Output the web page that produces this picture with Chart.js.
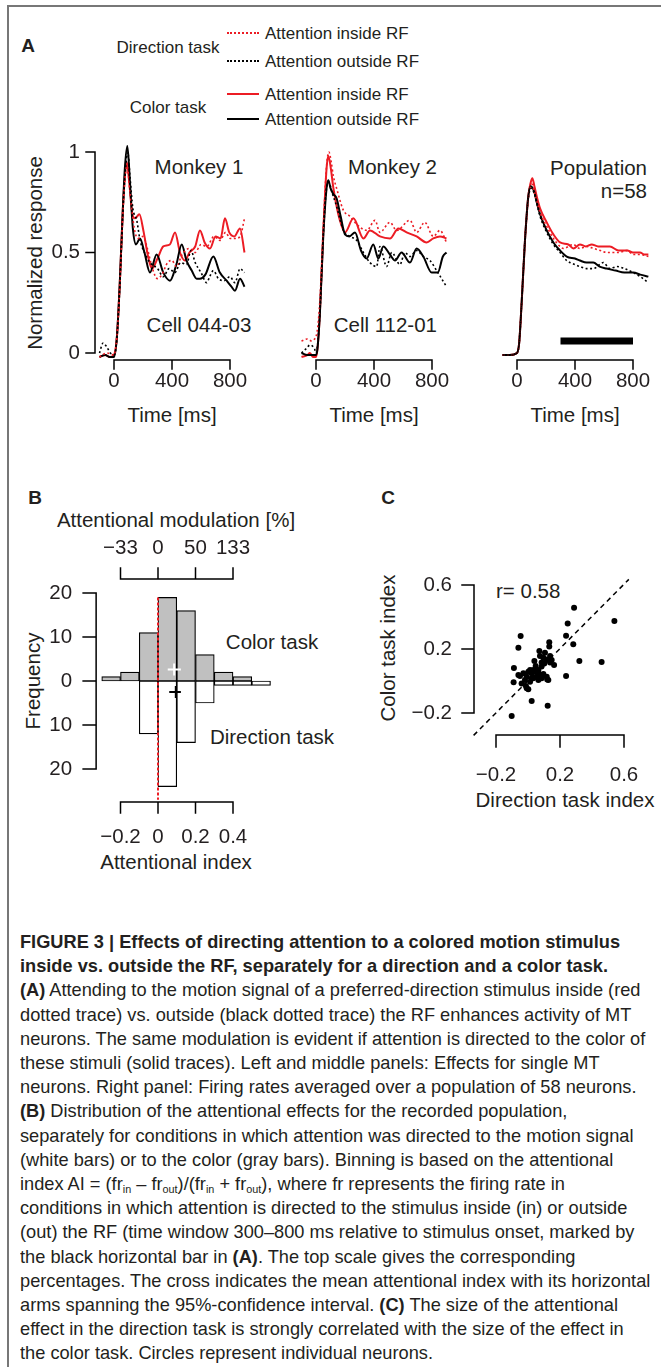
<!DOCTYPE html>
<html>
<head>
<meta charset="utf-8">
<title>Figure 3</title>
<script src="https://cdn.jsdelivr.net/npm/chart.js@4.4.0/dist/chart.umd.min.js"></script>
<style>
  html, body { margin: 0; padding: 0; background: #fff; }
  #page { position: relative; width: 661px; height: 1367px; overflow: hidden;
          font-family: "Liberation Sans", Arial, sans-serif; color: #231f20; }
  #frame { position: absolute; left: 7px; top: 5px; width: 700px; height: 1400px;
           border-left: 2px solid #777; border-top: 2px solid #777; }
  .t { position: absolute; white-space: nowrap; line-height: 1; font-size: 20.5px; }
  .c { transform: translate(-50%, -50%); }
  .l { transform: translate(0, -50%); }
  .r { transform: translate(-100%, -50%); }
  .v { transform: translate(-50%, -50%) rotate(-90deg); }
  .lg { font-size: 17px; }
  .pl { font-size: 19px; font-weight: bold; }
  .sw { position: absolute; width: 32px; height: 0; }
  canvas { position: absolute; }
  #caption { position: absolute; left: 20px; top: 930px; font-size: 18.5px; line-height: 24.2px;
             transform-origin: 0 0; white-space: nowrap;
             font-family: "Liberation Sans Narrow", "Liberation Sans", Arial, sans-serif; }
  #caption sub { font-size: 11px; vertical-align: -3px; line-height: 0; }
</style>
</head>
<body>
<div id="page">
  <div id="frame"></div>

  <!-- panel A -->
  <div class="t pl c" style="left:28px;top:45px">A</div>
  <div class="t lg c" style="left:168px;top:47px">Direction task</div>
  <div class="t lg c" style="left:168px;top:107px">Color task</div>
  <div class="sw" style="left:227px;top:32px;border-top:2px dotted #ec1c24"></div>
  <div class="sw" style="left:227px;top:60px;border-top:2px dotted #000"></div>
  <div class="sw" style="left:227px;top:93px;border-top:2px solid #ec1c24"></div>
  <div class="sw" style="left:227px;top:118px;border-top:2px solid #000"></div>
  <div class="t lg l" style="left:265px;top:33px">Attention inside RF</div>
  <div class="t lg l" style="left:265px;top:61px">Attention outside RF</div>
  <div class="t lg l" style="left:265px;top:94px">Attention inside RF</div>
  <div class="t lg l" style="left:265px;top:119px">Attention outside RF</div>

  <div class="t v" style="left:35px;top:253px">Normalized response</div>
  <div class="t c" style="left:199px;top:167px">Monkey 1</div>
  <div class="t c" style="left:199px;top:325px">Cell 044-03</div>
  <div class="t r" style="left:437px;top:167px">Monkey 2</div>
  <div class="t r" style="left:437px;top:325px">Cell 112-01</div>
  <div class="t r" style="left:647px;top:168px">Population</div>
  <div class="t r" style="left:647px;top:191px">n=58</div>
  <div class="t c" style="left:172px;top:415px">Time [ms]</div>
  <div class="t c" style="left:374px;top:415px">Time [ms]</div>
  <div class="t c" style="left:575px;top:415px">Time [ms]</div>

  <canvas id="a1" width="220" height="280" style="left:35px;top:125px"></canvas>
  <canvas id="a2" width="180" height="280" style="left:280px;top:125px"></canvas>
  <canvas id="a3" width="181" height="280" style="left:480px;top:125px"></canvas>

  <!-- panel B -->
  <div class="t pl c" style="left:35px;top:497px">B</div>
  <div class="t c" style="left:176px;top:520px">Attentional modulation [%]</div>
  <div class="t v" style="left:33px;top:681px">Frequency</div>
  <div class="t c" style="left:272px;top:642px">Color task</div>
  <div class="t c" style="left:272px;top:737px">Direction task</div>
  <div class="t c" style="left:176px;top:862px">Attentional index</div>
  <canvas id="b" width="280" height="320" style="left:40px;top:530px"></canvas>

  <!-- panel C -->
  <div class="t pl c" style="left:388px;top:497px">C</div>
  <div class="t v" style="left:388px;top:648px">Color task index</div>
  <div class="t l" style="left:496px;top:591px">r= 0.58</div>
  <div class="t c" style="left:565px;top:800px">Direction task index</div>
  <canvas id="c" width="261" height="240" style="left:400px;top:555px"></canvas>

  <div id="caption">
    <div><b>FIGURE 3 | Effects of directing attention to a colored motion stimulus</b></div>
    <div><b>inside vs. outside the RF, separately for a direction and a color task.</b></div>
    <div><b>(A)</b> Attending to the motion signal of a preferred-direction stimulus inside (red</div>
    <div>dotted trace) vs. outside (black dotted trace) the RF enhances activity of MT</div>
    <div>neurons. The same modulation is evident if attention is directed to the color of</div>
    <div>these stimuli (solid traces). Left and middle panels: Effects for single MT</div>
    <div>neurons. Right panel: Firing rates averaged over a population of 58 neurons.</div>
    <div><b>(B)</b> Distribution of the attentional effects for the recorded population,</div>
    <div>separately for conditions in which attention was directed to the motion signal</div>
    <div>(white bars) or to the color (gray bars). Binning is based on the attentional</div>
    <div>index AI = (fr<sub>in</sub> – fr<sub>out</sub>)/(fr<sub>in</sub> + fr<sub>out</sub>), where fr represents the firing rate in</div>
    <div>conditions in which attention is directed to the stimulus inside (in) or outside</div>
    <div>(out) the RF (time window 300–800 ms relative to stimulus onset, marked by</div>
    <div>the black horizontal bar in <b>(A)</b>. The top scale gives the corresponding</div>
    <div>percentages. The cross indicates the mean attentional index with its horizontal</div>
    <div>arms spanning the 95%-confidence interval. <b>(C)</b> The size of the attentional</div>
    <div>effect in the direction task is strongly correlated with the size of the effect in</div>
    <div>the color task. Circles represent individual neurons.</div>
  </div>
</div>

<script>
// ---- Panel A: Monkey 1 (time in ms, normalized response) ----
const m1ColorInT  = [-100,-60,-30,0,20,40,60,75,88,105,125,145,175,205,235,262,300,340,385,421,455,490,520,560,593,625,662,700,735,765,795,830,869,900];
const m1ColorIn   = [-0.02,-0.01,-0.02,-0.01,0.08,0.35,0.70,0.88,0.95,0.85,0.70,0.67,0.69,0.60,0.48,0.42,0.47,0.53,0.54,0.60,0.50,0.46,0.50,0.53,0.61,0.55,0.52,0.58,0.57,0.67,0.60,0.58,0.62,0.50];
const m1DirInT    = [-100,-50,0,20,40,60,75,90,110,140,165,200,230,265,300,330,370,400,430,470,520,560,600,640,690,730,770,800,840,870,900];
const m1DirIn     = [-0.02,0.00,-0.01,0.08,0.33,0.68,0.86,0.93,0.80,0.62,0.57,0.58,0.52,0.42,0.37,0.39,0.45,0.46,0.43,0.49,0.52,0.50,0.54,0.53,0.58,0.56,0.60,0.57,0.57,0.58,0.67];
const m1ColorOutT = [-100,-60,-30,0,20,40,60,75,92,110,130,152,179,210,248,294,340,386,430,467,500,536,570,593,630,685,730,777,810,834,869,900];
const m1ColorOut  = [-0.02,-0.01,-0.02,-0.02,0.08,0.35,0.70,0.92,1.03,0.85,0.62,0.54,0.57,0.50,0.40,0.49,0.40,0.36,0.44,0.54,0.46,0.41,0.37,0.37,0.39,0.48,0.40,0.36,0.33,0.31,0.37,0.33];
const m1DirOutT   = [-100,-75,-50,-25,0,20,40,60,78,95,110,130,157,180,210,248,300,340,380,420,460,500,531,560,600,639,660,685,720,760,800,834,870,900];
const m1DirOut    = [0.00,0.05,0.03,0.00,-0.01,0.07,0.33,0.68,0.90,1.00,0.88,0.72,0.66,0.56,0.50,0.45,0.42,0.38,0.42,0.40,0.45,0.44,0.51,0.45,0.40,0.35,0.38,0.41,0.37,0.36,0.38,0.35,0.42,0.40];

// ---- Panel A: Monkey 2 ----
const m2ColorInT  = [-100,-60,-42,-20,0,10,27,50,73,85,100,120,142,165,200,258,327,372,441,510,568,625,694,763,809,855,900];
const m2ColorIn   = [-0.02,-0.01,0.00,-0.02,-0.02,0.02,0.20,0.60,0.92,0.98,0.93,0.82,0.73,0.66,0.60,0.67,0.57,0.61,0.58,0.57,0.62,0.60,0.58,0.55,0.57,0.58,0.57];
const m2DirInT    = [-100,-60,-30,-10,0,15,30,50,73,89,105,120,142,189,234,281,350,407,441,510,556,648,694,750,809,855,900];
const m2DirIn     = [0.06,0.07,0.06,0.07,0.08,0.15,0.30,0.62,0.93,1.00,0.95,0.88,0.82,0.71,0.68,0.64,0.61,0.66,0.60,0.65,0.61,0.66,0.60,0.65,0.58,0.61,0.55];
const m2ColorOutT = [-100,-60,-20,0,10,27,50,73,85,100,120,142,170,200,230,269,310,349,395,430,464,510,545,590,648,694,740,798,840,875,900];
const m2ColorOut  = [0.00,-0.01,-0.01,-0.01,0.02,0.20,0.58,0.82,0.86,0.82,0.79,0.77,0.68,0.59,0.58,0.60,0.51,0.47,0.54,0.47,0.53,0.49,0.46,0.50,0.45,0.52,0.48,0.40,0.40,0.48,0.50];
const m2DirOutT   = [-100,-70,-40,-10,0,27,50,73,89,110,142,189,234,281,327,372,418,441,487,522,579,613,648,694,740,786,832,866,900];
const m2DirOut    = [0.00,0.02,0.04,0.02,0.00,0.20,0.58,0.82,0.85,0.80,0.73,0.61,0.58,0.56,0.50,0.45,0.43,0.53,0.43,0.50,0.44,0.50,0.48,0.51,0.48,0.46,0.41,0.37,0.33];

// ---- Panel A: population average (n=58) ----
const popColorInT  = [-100,-50,0,15,32,55,78,95,106,120,136,159,205,251,297,354,389,434,475,515,560,600,641,700,760,800,848,880,906];
const popColorIn   = [-0.01,-0.01,0.00,0.05,0.25,0.56,0.78,0.85,0.87,0.83,0.78,0.72,0.65,0.59,0.55,0.54,0.52,0.54,0.53,0.54,0.53,0.53,0.53,0.51,0.51,0.50,0.50,0.49,0.49];
const popDirInT    = [-100,-50,0,15,32,55,78,95,103,120,159,205,251,297,320,389,434,480,530,575,620,700,760,800,848,906];
const popDirIn     = [-0.01,-0.01,0.00,0.05,0.25,0.56,0.77,0.83,0.84,0.80,0.70,0.63,0.57,0.53,0.52,0.54,0.52,0.53,0.52,0.51,0.50,0.50,0.51,0.49,0.49,0.48];
const popColorOutT = [-100,-50,0,15,32,55,78,95,120,136,159,205,251,297,343,400,434,480,526,570,618,680,740,802,850,906];
const popColorOut  = [-0.01,-0.01,0.00,0.05,0.25,0.56,0.78,0.83,0.80,0.75,0.69,0.61,0.55,0.51,0.48,0.47,0.46,0.45,0.45,0.43,0.42,0.41,0.40,0.40,0.39,0.38];
const popDirOutT   = [-100,-50,0,15,32,55,78,100,120,159,205,251,297,343,400,434,480,526,595,640,690,740,802,850,906];
const popDirOut    = [-0.01,-0.01,0.00,0.05,0.25,0.56,0.77,0.82,0.79,0.68,0.60,0.54,0.50,0.46,0.44,0.43,0.42,0.42,0.45,0.42,0.43,0.42,0.40,0.38,0.35];
// analysis window marked by the black bar
const windowT = [300, 800];
const windowLevel = [0.06, 0.06];

const timeTicks = [0, 400, 800];
const timeLabels = ['0', '400', '800'];
const respTicks = [0, 0.5, 1];
const respLabels = ['0', '0.5', '1'];

// ---- Panel B: histogram of attentional index ----
const binMid = [-0.25, -0.15, -0.05, 0.05, 0.15, 0.25, 0.35, 0.45, 0.55];
const colorCounts = [1, 2, 11, 19, 16, 6, 2, 1, 0];
const dirCounts   = [0, 0, 12, 24, 14, 5, 1, 1, 1];
const colorMean = 0.086, colorCI = [0.052, 0.122], colorCrossY = 2.6;
const dirMean = 0.095, dirCI = [0.06, 0.122], dirCrossY = -2.5;
const zeroLineY = [19, -27];
const aiTicks = [-0.2, 0, 0.2, 0.4];
const aiLabels = ['\u22120.2', '0', '0.2', '0.4'];
const modLabels = ['\u221233', '0', '50', '133'];
const freqTicks = [20, 10, 0, -10, -20];
const freqLabels = ['20', '10', '0', '10', '20'];

// ---- Panel C: color task index vs direction task index ----
const dirIdx = [0.288,0.540,0.248,0.238,-0.046,0.283,-0.060,0.133,0.133,0.071,0.321,0.460,-0.088,0.238,-0.090,0.023,0.123,-0.102,
  0.040,0.075,0.096,0.117,0.138,0.163,0.102,0.085,0.065,0.044,0.023,0.002,-0.029,-0.050,-0.060,-0.008,0.033,0.065,0.013,-0.040,
  -0.013,0.002,-0.008,0.127,0.117,0.096,0.054,0.138,0.106,0.085,0.023,-0.019,0.075,0.048,0.013,0.148,0.065,0.085,0.033,0.120];
const colIdx = [0.458,0.375,0.360,0.283,0.281,0.229,0.208,0.242,0.215,0.188,0.125,0.119,0.081,0.031,-0.008,-0.125,-0.154,-0.219,
  0.125,0.156,0.146,0.135,0.115,0.100,0.110,0.090,0.069,0.058,0.048,0.058,0.048,0.031,0.037,0.027,0.017,0.006,-0.004,-0.015,
  -0.031,-0.052,-0.046,0.006,0.027,0.044,0.027,0.156,0.177,0.115,0.017,0.006,0.027,0.094,0.069,0.131,0.048,0.017,0.069,0.010];
const regX = [-0.34, 0.63];
const regY = [-0.34, 0.635];
const idxTicks = [-0.2, 0.2, 0.6];
const idxLabels = ['\u22120.2', '0.2', '0.6'];

const RED = '#ec1c24';
const INK = '#231f20';
const FONT = '"Liberation Sans", Arial, sans-serif';

Chart.defaults.animation = false;
Chart.defaults.font.family = FONT;

// R-style detached axes: line only between first and last tick
const rAxes = {
  id: 'rAxes',
  afterDraw(chart, args, opts) {
    const axes = opts.axes || [];
    const ctx = chart.ctx;
    const sx = chart.scales.x, sy = chart.scales.y;
    ctx.save();
    ctx.strokeStyle = '#000';
    ctx.lineWidth = 1.5;
    ctx.lineCap = 'square';
    ctx.fillStyle = INK;
    ctx.font = '20.5px ' + FONT;
    axes.forEach(a => {
      if (a.dir === 'y') {
        const x = sx.getPixelForValue(a.at);
        const ys = a.ticks.map(v => sy.getPixelForValue(v));
        ctx.beginPath();
        ctx.moveTo(x, Math.min(...ys));
        ctx.lineTo(x, Math.max(...ys));
        ys.forEach(y => { ctx.moveTo(x, y); ctx.lineTo(x - a.tick, y); });
        ctx.stroke();
        ctx.textAlign = 'right';
        ctx.textBaseline = 'middle';
        a.labels.forEach((s, i) => ctx.fillText(s, x - a.tick - a.gap, ys[i]));
      } else {
        const y = sy.getPixelForValue(a.at);
        const xs = a.ticks.map(v => sx.getPixelForValue(v));
        const d = a.side === 'top' ? -1 : 1;
        ctx.beginPath();
        ctx.moveTo(Math.min(...xs), y);
        ctx.lineTo(Math.max(...xs), y);
        xs.forEach(x => { ctx.moveTo(x, y); ctx.lineTo(x, y + d * a.tick); });
        ctx.stroke();
        ctx.textAlign = 'center';
        ctx.textBaseline = 'middle';
        a.labels.forEach((s, i) => ctx.fillText(s, xs[i], y + d * (a.tick + a.gap)));
      }
    });
    ctx.restore();
  }
};
Chart.register(rAxes);

// chart area in page pixels from origin position and pixel/unit factors
function plotArea(x0, kx, y0, ky, xr, yr) {
  return { left: x0 + xr[0] * kx, right: x0 + xr[1] * kx, top: y0 - yr[1] * ky, bottom: y0 - yr[0] * ky };
}
function paddingFor(canvas, area) {
  const left = parseFloat(canvas.style.left), top = parseFloat(canvas.style.top);
  return {
    left: area.left - left,
    top: area.top - top,
    right: left + canvas.width - area.right,
    bottom: top + canvas.height - area.bottom
  };
}
function points(xs, ys) {
  return xs.map((x, i) => ({ x: x, y: ys[i] }));
}
function trace(ts, vs, color, dotted) {
  return {
    type: 'line',
    data: points(ts, vs),
    borderColor: color,
    borderWidth: dotted ? 1.6 : 2,
    borderDash: dotted ? [2, 2.5] : [],
    pointRadius: 0,
    cubicInterpolationMode: 'monotone',
    fill: false
  };
}
function baseOptions(canvas, area, xr, yr, axes) {
  return {
    responsive: false,
    animation: false,
    events: [],
    layout: { padding: paddingFor(canvas, area) },
    plugins: { legend: { display: false }, tooltip: { enabled: false }, rAxes: { axes: axes } },
    scales: {
      x: { type: 'linear', min: xr[0], max: xr[1], display: false, offset: false },
      y: { type: 'linear', min: yr[0], max: yr[1], display: false }
    }
  };
}

// ---- Panel A charts ----
const tRange = [-140, 920];
const vRange = [-0.06, 1.06];
function responsePanel(id, zeroPx, sets, withYAxis, extra) {
  const canvas = document.getElementById(id);
  const area = plotArea(zeroPx, 0.145, 353, 201, tRange, vRange);
  const axes = [{ dir: 'x', side: 'bottom', at: -0.035, ticks: timeTicks, labels: timeLabels, tick: 9, gap: 12 }];
  if (withYAxis) {
    axes.push({ dir: 'y', at: -131, ticks: respTicks, labels: respLabels, tick: 9, gap: 6 });
  }
  const datasets = [
    trace(sets.dirOutT, sets.dirOut, '#000', true),
    trace(sets.dirInT, sets.dirIn, RED, true),
    trace(sets.colorOutT, sets.colorOut, '#000', false),
    trace(sets.colorInT, sets.colorIn, RED, false)
  ].concat(extra || []);
  return new Chart(canvas, {
    type: 'line',
    data: { datasets: datasets },
    options: baseOptions(canvas, area, tRange, vRange, axes)
  });
}

responsePanel('a1', 114, {
  colorInT: m1ColorInT, colorIn: m1ColorIn, dirInT: m1DirInT, dirIn: m1DirIn,
  colorOutT: m1ColorOutT, colorOut: m1ColorOut, dirOutT: m1DirOutT, dirOut: m1DirOut
}, true);

responsePanel('a2', 316, {
  colorInT: m2ColorInT, colorIn: m2ColorIn, dirInT: m2DirInT, dirIn: m2DirIn,
  colorOutT: m2ColorOutT, colorOut: m2ColorOut, dirOutT: m2DirOutT, dirOut: m2DirOut
}, false);

responsePanel('a3', 517, {
  colorInT: popColorInT, colorIn: popColorIn, dirInT: popDirInT, dirIn: popDirIn,
  colorOutT: popColorOutT, colorOut: popColorOut, dirOutT: popDirOutT, dirOut: popDirOut
}, false, [{
  type: 'line', data: points(windowT, windowLevel), borderColor: '#000',
  borderWidth: 7, borderCapStyle: 'butt', pointRadius: 0
}]);

// ---- Panel B chart ----
(function () {
  const canvas = document.getElementById('b');
  const xr = [-0.35, 0.65], yr = [-28, 21];
  const area = plotArea(158, 187.5, 681, 4.4, xr, yr);
  const axes = [
    { dir: 'y', at: -0.33, ticks: freqTicks, labels: freqLabels, tick: 13, gap: 11 },
    { dir: 'x', side: 'top', at: 23.2, ticks: aiTicks, labels: modLabels, tick: 11, gap: 20 },
    { dir: 'x', side: 'bottom', at: -27.5, ticks: aiTicks, labels: aiLabels, tick: 11, gap: 24 }
  ];
  const barStyle = {
    type: 'bar', borderColor: '#000', borderWidth: 1.2, borderSkipped: false,
    grouped: false, barPercentage: 1, categoryPercentage: 1
  };
  new Chart(canvas, {
    type: 'bar',
    data: {
      datasets: [
        Object.assign({}, barStyle, {
          data: binMid.map((x, i) => ({ x: x, y: colorCounts[i] ? colorCounts[i] : null })),
          backgroundColor: '#c0c0c0', order: 4
        }),
        Object.assign({}, barStyle, {
          data: binMid.map((x, i) => ({ x: x, y: dirCounts[i] ? -dirCounts[i] : null })),
          backgroundColor: '#ffffff', order: 3
        }),
        {
          type: 'line', data: zeroLineY.map(y => ({ x: 0, y: y })), borderColor: RED,
          borderWidth: 2, borderDash: [3, 2], pointRadius: 0, order: 2
        },
        {
          type: 'line', data: colorCI.map(x => ({ x: x, y: colorCrossY })), borderColor: '#fff',
          borderWidth: 2, pointRadius: 0, order: 1
        },
        {
          type: 'line', data: [{ x: colorMean, y: colorCrossY }], showLine: false, pointStyle: 'line',
          rotation: 90, radius: 6, borderColor: '#fff', borderWidth: 2, order: 1
        },
        {
          type: 'line', data: dirCI.map(x => ({ x: x, y: dirCrossY })), borderColor: '#000',
          borderWidth: 2, pointRadius: 0, order: 1
        },
        {
          type: 'line', data: [{ x: dirMean, y: dirCrossY }], showLine: false, pointStyle: 'line',
          rotation: 90, radius: 6, borderColor: '#000', borderWidth: 2, order: 1
        }
      ]
    },
    options: baseOptions(canvas, area, xr, yr, axes)
  });
})();

// ---- Panel C chart ----
(function () {
  const canvas = document.getElementById('c');
  const xr = [-0.4, 0.7], yr = [-0.4, 0.7];
  const area = plotArea(528, 160, 681, 160, xr, yr);
  const axes = [
    { dir: 'y', at: -0.3375, ticks: idxTicks, labels: idxLabels, tick: 12, gap: 10 },
    { dir: 'x', side: 'bottom', at: -0.3375, ticks: idxTicks, labels: idxLabels, tick: 12, gap: 28 }
  ];
  new Chart(canvas, {
    type: 'scatter',
    data: {
      datasets: [
        {
          type: 'line', data: points(regX, regY), borderColor: '#000', borderWidth: 1.5,
          borderDash: [5, 4], pointRadius: 0, order: 2
        },
        {
          data: points(dirIdx, colIdx), backgroundColor: '#000', borderWidth: 0,
          pointRadius: 3, order: 1
        }
      ]
    },
    options: baseOptions(canvas, area, xr, yr, axes)
  });
})();

// caption: squeeze the text block to the column width
(function () {
  const cap = document.getElementById('caption');
  const w = cap.offsetWidth;
  if (w > 0) cap.style.transform = 'scaleX(' + (630 / w) + ')';
})();
</script>
</body>
</html>
